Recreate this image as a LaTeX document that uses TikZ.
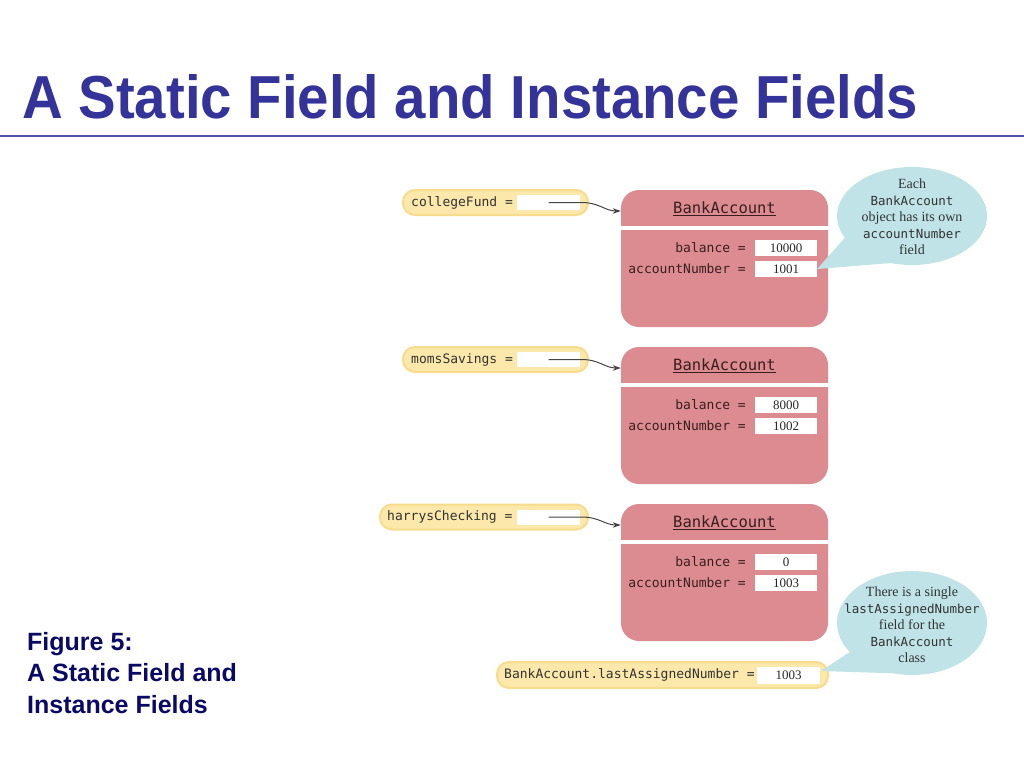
\documentclass[tikz,border=0pt]{standalone}
\usepackage{fontspec}
\setmainfont{Liberation Serif}
\setsansfont{Liberation Sans}
\setmonofont{DejaVu Sans Mono}
\usetikzlibrary{arrows.meta,calc,shapes.geometric}
\definecolor{titleblue}{HTML}{333399}
\definecolor{capblue}{HTML}{0A0A66}
\definecolor{objpink}{HTML}{DC8C91}
\definecolor{varyellow}{HTML}{FBE8AA}
\definecolor{varedge}{HTML}{F8DC8E}
\definecolor{calloutcyan}{HTML}{BFE3E7}
\definecolor{objtext}{HTML}{3A1E1E}
\definecolor{arrowgray}{HTML}{444444}
\tikzset{
  obj/.style={fill=objpink, rounded corners=18pt, minimum width=207pt, minimum height=137pt, inner sep=0pt},
  hdr/.style={font=\fontsize{15.5}{18}\selectfont\ttfamily, text=objtext, inner sep=0pt},
  sepbar/.style={fill=white, minimum width=207pt, minimum height=4pt, inner sep=0pt},
  fieldlbl/.style={font=\fontsize{13}{15}\selectfont\ttfamily, text=objtext, anchor=east, inner sep=0pt},
  valbox/.style={fill=white, minimum width=62pt, minimum height=16pt, inner sep=0pt, font=\fontsize{13}{15}\selectfont\rmfamily, text=black!85},
  varpill/.style={fill=varyellow, draw=varedge, line width=2pt, rounded corners=12pt, minimum height=25pt, inner sep=0pt},
  varlbl/.style={font=\fontsize{13}{15}\selectfont\ttfamily, text=black!80, anchor=west, inner sep=0pt},
  varval/.style={fill=white, minimum width=63pt, minimum height=15pt, inner sep=0pt, font=\fontsize{13}{15}\selectfont\rmfamily, text=black!85},
  callout/.style={ellipse, fill=calloutcyan, minimum width=150pt, minimum height=98pt, inner sep=0pt},
  callouttext/.style={align=center, inner sep=0pt, font=\fontsize{14}{16.5}\selectfont\rmfamily, text=black!80},
  ptr/.style={draw=arrowgray, line width=1pt, -{Stealth[length=8pt,width=5.5pt]}},
  titletext/.style={font=\sffamily\bfseries, text=titleblue, anchor=base west, inner sep=0pt},
  captext/.style={font=\fontsize{25}{31.5}\selectfont\sffamily\bfseries, text=capblue, anchor=north west, align=left, inner sep=0pt}
}
\newcommand{\cmono}[1]{{\fontsize{12.5}{16.5}\selectfont\ttfamily #1}}
\begin{document}
\begin{tikzpicture}[x=1pt,y=-1pt]
\useasboundingbox (0,0) rectangle (1024,768);
\fill[white] (0,0) rectangle (1024,768);

% title
\node[titletext] (title) at (22,118) {\resizebox{896pt}{44pt}{\fontsize{57}{60}\selectfont A Static Field and Instance Fields}};
\draw[titleblue!85, line width=2.2pt] (0,136) -- (1024,136);

% caption
\node[captext] (cap) at (27,632) {Figure 5:\\A Static Field and\\Instance Fields};

% objects
\foreach \i/\t/\bal/\num in {1/190/10000/1001, 2/347/8000/1002, 3/504/0/1003}{
  \node[obj] (o\i) at (724.5,\t+68.5) {};
  \node[sepbar] (s\i) at (724.5,\t+38) {};
  \node[hdr] (o\i t) at (724.5,\t+19) {\underline{BankAccount}};
  \node[valbox] (v\i b) at (786,\t+58) {\bal};
  \node[valbox] (v\i a) at (786,\t+79) {\num};
  \node[fieldlbl] (l\i b) at (746,\t+58) {balance =};
  \node[fieldlbl] (l\i a) at (746,\t+79) {accountNumber =};
}

% variables
\node[varpill, minimum width=185pt] (p1) at (495.5,202.5) {};
\node[varlbl] (p1l) at (411,202.5) {collegeFund =};
\node[varval] (p1v) at (548.5,202.5) {};

\node[varpill, minimum width=185pt] (p2) at (495.5,359.5) {};
\node[varlbl] (p2l) at (411,359.5) {momsSavings =};
\node[varval] (p2v) at (548.5,359.5) {};

\node[varpill, minimum width=208pt] (p3) at (484,517) {};
\node[varlbl] (p3l) at (387,517) {harrysChecking =};
\node[varval] (p3v) at (548.5,517) {};

\node[varpill, minimum width=331pt, minimum height=26pt] (ps) at (662.5,675) {};
\node[varlbl] (psl) at (504,675) {BankAccount.lastAssignedNumber =};
\node[varval, minimum height=17pt] (psv) at (788.5,675) {1003};

% arrows
\foreach \i in {1,2,3}{
  \draw[ptr] (p\i v.center) -- ++(33,0) .. controls +(18,0) and +(-16,0) .. ($(o\i.west |- o\i t.center)+(0,2)$);
}

% callouts
\node[callout] (c1) at (912,216) {};
\fill[calloutcyan] (v1a.east) -- (c1.198) -- (c1.245) -- cycle;
\node[callouttext] (c1t) at (912,217) {Each\\\cmono{BankAccount}\\object has its own\\\cmono{accountNumber}\\field};

\node[callout, minimum height=104pt] (c2) at (912,623) {};
\fill[calloutcyan] ($(psv.east)+(1,-4)$) -- (c2.205) -- (c2.248) -- cycle;
\node[callouttext] (c2t) at (912,625) {There is a single\\\cmono{lastAssignedNumber}\\field for the\\\cmono{BankAccount}\\class};
\end{tikzpicture}
\end{document}
